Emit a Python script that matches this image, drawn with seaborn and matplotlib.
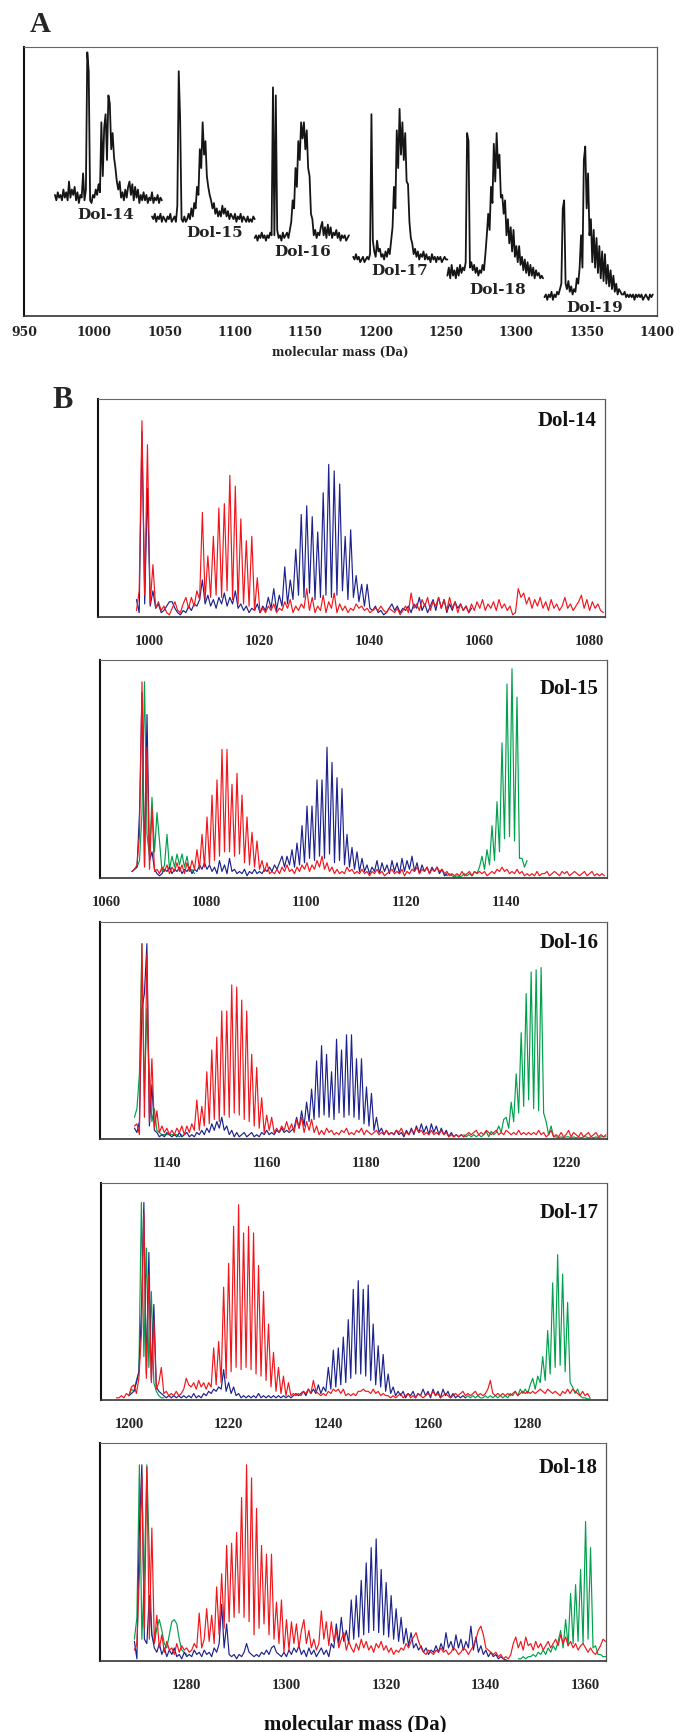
import numpy as np
import matplotlib
matplotlib.use("Agg")
import matplotlib.pyplot as plt
import seaborn as sns

# ---------------------------------------------------------------- data
# Panel A: overview spectra (1 Da sampling), start masses + intensities
a_names = ["Dol-14", "Dol-15", "Dol-16", "Dol-17", "Dol-18", "Dol-19"]
a_starts = [972, 1041, 1114, 1184, 1251, 1320]
a_dol14 = [45, 43, 46, 44, 45, 43, 47, 44, 46, 43, 50, 44, 47, 45, 48, 43, 46, 42, 45, 44,
           53, 43, 47, 98, 91, 43, 42, 45, 44, 47, 45, 49, 46, 72, 52, 70, 75, 58, 82, 79,
           62, 68, 59, 55, 50, 47, 50, 44, 46, 43, 47, 44, 48, 50, 45, 49, 43, 48, 44, 47,
           42, 45, 43, 46, 43, 45, 42, 44, 43, 46, 42, 44, 43, 45, 42, 44, 43]
a_dol15 = [37, 36, 38, 35, 37, 36, 38, 35, 37, 36, 35, 37, 36, 38, 35, 36, 37, 35, 41, 91,
           73, 36, 35, 37, 35, 36, 38, 36, 40, 37, 42, 40, 48, 45, 62, 55, 72, 60, 65, 52,
           48, 45, 43, 40, 42, 38, 40, 37, 39, 37, 41, 38, 40, 37, 39, 36, 38, 37, 36, 38,
           35, 37, 36, 38, 35, 37, 36, 35, 37, 35, 36, 35, 37, 36]
a_dol16 = [29, 30, 28, 30, 29, 31, 29, 30, 28, 30, 29, 31, 30, 85, 30, 82, 32, 29, 30, 28,
           31, 29, 30, 31, 29, 32, 35, 43, 40, 55, 48, 65, 58, 72, 66, 72, 62, 69, 55, 52,
           38, 36, 30, 32, 29, 31, 30, 33, 35, 30, 33, 29, 34, 30, 33, 29, 31, 30, 32, 29,
           31, 28, 30, 29, 30, 28, 29, 30]
a_dol17 = [22, 21, 23, 21, 22, 20, 21, 22, 20, 21, 22, 21, 23, 75, 28, 24, 22, 28, 24, 25,
           22, 23, 21, 24, 22, 25, 23, 28, 33, 48, 40, 69, 55, 77, 60, 72, 58, 68, 50, 49,
           35, 29, 27, 23, 25, 22, 24, 21, 23, 22, 24, 21, 23, 21, 22, 20, 23, 21, 22, 20,
           22, 21, 22, 20, 21, 22, 21, 21]
a_dol18 = [15, 18, 14, 19, 15, 17, 14, 18, 15, 19, 16, 18, 17, 20, 68, 65, 18, 20, 17, 19,
           16, 18, 15, 17, 16, 19, 17, 23, 30, 38, 32, 48, 42, 64, 50, 68, 55, 60, 44, 45,
           38, 43, 30, 36, 27, 33, 24, 32, 22, 26, 20, 26, 19, 22, 17, 21, 16, 20, 15, 19,
           15, 18, 14, 17, 15, 16, 14, 15, 14]
a_dol19 = [7, 8, 6, 8, 7, 9, 6, 8, 7, 9, 8, 10, 12, 40, 43, 12, 10, 13, 9, 11,
           8, 10, 9, 14, 12, 18, 30, 18, 58, 63, 40, 53, 30, 36, 20, 32, 18, 29, 16, 26,
           14, 24, 13, 23, 12, 19, 11, 17, 10, 15, 9, 12, 8, 10, 9, 8, 8, 9, 7, 8,
           7, 8, 7, 8, 6, 8, 7, 8, 7, 8, 6, 7, 8, 7, 6, 8, 7, 8]
a_ticks = [950, 1000, 1050, 1100, 1150, 1200, 1250, 1300, 1350, 1400]

# Panel B: zoomed spectra (0.5 Da sampling); red / blue / green traces
b_names = ["Dol-14", "Dol-15", "Dol-16", "Dol-17", "Dol-18"]
b_ticks = [[1000, 1020, 1040, 1060, 1080],
           [1060, 1080, 1100, 1120, 1140],
           [1140, 1160, 1180, 1200, 1220],
           [1200, 1220, 1240, 1260, 1280],
           [1280, 1300, 1320, 1340, 1360]]
b_ranges = [(990.6, 1082.9), (1058.8, 1160.2), (1126.6, 1228.2),
            (1194.4, 1295.9), (1262.6, 1364.1)]

dol14_red_start = 997.6
dol14_red = [3, 12, 90, 10, 79, 6, 24, 4, 7, 3, 5, 2, 1, 4, 7, 3, 2, 6, 9, 4,
             9, 5, 12, 8, 48, 8, 28, 9, 37, 10, 50, 9, 52, 12, 65, 8, 60, 6, 45, 6,
             35, 5, 37, 3, 18, 2, 4, 2, 5, 3, 6, 2, 4, 3, 7, 4, 8, 2, 5, 3,
             6, 4, 13, 3, 9, 2, 5, 3, 10, 2, 7, 4, 11, 2, 6, 3, 5, 2, 4, 3,
             6, 4, 5, 3, 4, 2, 3, 4, 3, 5, 3, 2, 4, 3, 2, 4, 1, 3, 5, 2,
             11, 4, 6, 3, 8, 5, 9, 3, 7, 5, 9, 4, 8, 3, 9, 4, 7, 2, 6, 3,
             5, 2, 6, 3, 7, 4, 8, 3, 6, 4, 7, 3, 8, 4, 6, 3, 5, 1, 2, 13,
             9, 11, 6, 9, 4, 8, 5, 9, 4, 7, 3, 8, 4, 6, 3, 5, 9, 4, 6, 3,
             5, 7, 10, 4, 8, 3, 7, 4, 6, 3, 2]
dol14_blue_start = 997.6
dol14_blue = [8, 2, 85, 6, 59, 5, 12, 4, 6, 2, 3, 5, 7, 7, 4, 2, 1, 3, 2, 5,
              3, 6, 5, 8, 17, 6, 10, 5, 8, 4, 9, 6, 11, 5, 9, 6, 12, 4, 6, 3,
              5, 2, 4, 3, 6, 2, 5, 3, 9, 4, 13, 3, 10, 5, 23, 6, 17, 8, 31, 10,
              47, 9, 51, 11, 46, 8, 39, 9, 57, 10, 70, 9, 67, 10, 61, 12, 37, 8, 40, 9,
              19, 7, 15, 5, 15, 4, 3, 5, 2, 3, 1, 2, 4, 6, 3, 5, 2, 4, 3, 5,
              2, 6, 4, 9, 3, 6, 2, 5, 8, 3, 9, 4, 8, 2, 6, 3, 7, 4, 6, 3,
              5, 2, 4]

dol15_red_start = 1065.2
dol15_red = [3, 4, 6, 20, 90, 5, 60, 4, 32, 3, 4, 2, 5, 3, 6, 2, 5, 3, 7, 3,
             6, 2, 7, 3, 8, 4, 13, 4, 20, 5, 28, 6, 38, 8, 45, 10, 59, 12, 59, 12,
             43, 10, 48, 11, 38, 7, 28, 6, 21, 5, 17, 4, 8, 3, 7, 2, 3, 2, 4, 2,
             5, 3, 6, 3, 4, 2, 5, 3, 6, 4, 7, 3, 6, 4, 8, 5, 10, 4, 7, 3,
             5, 2, 4, 2, 3, 2, 5, 3, 4, 2, 3, 2, 4, 2, 3, 1, 3, 2, 4, 2,
             3, 1, 2, 3, 4, 2, 3, 2, 4, 1, 3, 2, 4, 3, 5, 2, 4, 3, 5, 2,
             4, 3, 5, 3, 4, 2, 3, 1, 2, 1, 2, 1, 3, 1, 2, 3, 1, 3, 2, 3,
             2, 3, 1, 2, 3, 2, 4, 3, 5, 3, 4, 2, 3, 2, 4, 2, 3, 1, 2, 1,
             2, 1, 3, 1, 2, 2, 3, 1, 2, 3, 2, 1, 3, 2, 3, 1, 2, 3, 2, 1,
             2, 3, 1, 2, 3, 1, 2, 1, 2, 1]
dol15_blue_start = 1065.2
dol15_blue = [3, 4, 5, 30, 85, 6, 75, 8, 12, 4, 2, 1, 2, 4, 3, 5, 2, 4, 3, 5,
              2, 4, 3, 5, 2, 4, 3, 6, 4, 7, 4, 6, 3, 5, 2, 8, 3, 6, 2, 9,
              3, 4, 2, 3, 2, 4, 1, 3, 2, 4, 2, 3, 2, 4, 3, 5, 3, 6, 4, 7,
              10, 5, 10, 6, 13, 5, 16, 6, 24, 7, 33, 9, 33, 8, 45, 10, 45, 9, 60, 11,
              53, 7, 46, 8, 41, 6, 20, 5, 14, 4, 12, 3, 9, 3, 6, 2, 5, 3, 8, 2,
              7, 3, 6, 2, 8, 3, 7, 2, 9, 3, 8, 4, 10, 3, 7, 2, 6, 3, 5, 2,
              5, 3, 5, 2, 4, 1, 2]
dol15_green_a_start = 1065.2
dol15_green_a = [3, 4, 5, 8, 30, 90, 20, 10, 37, 12, 30, 17, 3, 6, 20, 4, 10, 5, 11, 6,
                 11, 5, 10, 3, 4, 2]
dol15_green_b_start = 1127.7
dol15_green_b = [2, 1, 2, 1, 0.5, 1, 0.5, 1, 2, 1, 2, 1, 3, 2, 5, 10, 4, 13, 6, 24,
                 8, 35, 12, 62, 18, 89, 19, 96, 17, 83, 9, 9, 5, 8]

dol16_red_start = 1133.5
dol16_red = [6, 7, 2, 90, 10, 85, 8, 37, 5, 13, 3, 6, 3, 5, 2, 4, 2, 5, 3, 6,
             2, 6, 3, 7, 4, 18, 4, 15, 6, 31, 7, 41, 9, 47, 8, 59, 11, 59, 10, 71,
             12, 70, 11, 64, 9, 59, 8, 39, 6, 33, 5, 19, 3, 11, 4, 10, 3, 5, 3, 6,
             4, 8, 4, 7, 3, 9, 5, 10, 3, 8, 4, 9, 3, 6, 2, 4, 2, 5, 3, 4,
             2, 3, 2, 4, 3, 5, 2, 3, 2, 4, 3, 5, 2, 4, 3, 2, 3, 4, 2, 3,
             2, 4, 2, 3, 2, 4, 3, 5, 2, 3, 2, 4, 3, 5, 3, 4, 2, 3, 2, 4,
             2, 3, 2, 4, 2, 3, 1, 2, 1, 2, 1, 2, 1, 2, 3, 2, 3, 4, 2, 3,
             2, 4, 3, 2, 3, 4, 2, 3, 2, 4, 3, 2, 3, 2, 4, 2, 3, 2, 3, 2,
             3, 2, 4, 2, 3, 1, 2, 4, 1, 2, 1, 3, 1, 2, 4, 1, 3, 2, 1, 3,
             1, 2, 3, 1, 2, 3, 1, 2, 1, 2]
dol16_blue_start = 1133.5
dol16_blue = [5, 3, 8, 60, 67, 90, 6, 25, 4, 3, 1, 2, 1, 3, 2, 1, 2, 1, 3, 1,
              2, 3, 1, 2, 1, 3, 2, 4, 2, 5, 3, 7, 4, 8, 5, 10, 4, 6, 2, 4,
              1, 3, 1, 2, 3, 1, 2, 3, 1, 2, 1, 3, 2, 4, 2, 3, 2, 4, 3, 5,
              3, 4, 3, 4, 5, 10, 5, 13, 6, 17, 8, 23, 9, 36, 10, 43, 11, 39, 10, 31,
              9, 46, 12, 41, 10, 48, 11, 48, 10, 37, 9, 37, 7, 24, 6, 21, 4, 10, 3, 5,
              2, 4, 2, 3, 2, 4, 2, 3, 1, 4, 2, 5, 2, 6, 3, 7, 3, 6, 2, 7,
              3, 6, 2, 5, 2, 4, 1, 3, 1, 2, 1, 2, 1]
dol16_green_a_start = 1133.5
dol16_green_a = [10, 14, 30, 90, 20, 60, 30, 8, 14, 4, 3, 2, 2, 2, 2, 2, 2, 2, 1, 2]
dol16_green_b_start = 1199.5
dol16_green_b = [2, 1, 2, 1, 2, 1, 2, 1, 2, 3.5, 1, 3.5, 2, 3, 6, 3, 9, 10, 5, 17,
                 8, 30, 12, 49, 15, 67, 18, 77, 14, 78, 13, 79, 12, 8, 2, 6, 1, 1, 0.5, 1,
                 0.5, 1, 1, 0.5, 1, 0.5, 1, 0.5, 1, 1, 0.5, 1, 0.5, 1, 0.5, 1, 1, 1]

dol17_red_start = 1197.5
dol17_red = [1, 1, 2, 1, 3, 2, 6, 7, 3, 10, 30, 86, 10, 58, 8, 37, 5, 8, 15, 3,
             4, 2, 3, 2, 4, 2, 3, 5, 10, 7, 6, 8, 5, 9, 6, 8, 5, 8, 6, 24,
             7, 27, 8, 52, 10, 63, 13, 80, 15, 90, 14, 77, 15, 80, 14, 77, 12, 62, 11, 50,
             9, 35, 6, 22, 4, 15, 3, 11, 2, 8, 2, 3, 2, 3, 2, 4, 3, 5, 3, 9,
             4, 3, 2, 3, 2, 4, 3, 5, 4, 5, 3, 5, 2, 3, 2, 3, 2, 4, 4, 5,
             4, 4, 3, 5, 3, 4, 2, 3, 2, 2, 1, 2, 1, 2, 3, 1, 2, 3, 1, 2,
             1, 3, 2, 1, 2, 3, 2, 4, 2, 3, 1, 2, 3, 2, 1, 2, 3, 2, 3, 4,
             2, 3, 2, 3, 4, 2, 3, 2, 3, 5, 9, 3, 2, 3, 2, 3, 2, 3, 2, 3,
             4, 2, 3, 4, 3, 4, 3, 4, 3, 4, 5, 4, 3, 5, 4, 3, 4, 3, 2, 4,
             3, 5, 3, 5, 4, 3, 2, 4, 2, 3, 1]
dol17_blue_start = 1200.0
dol17_blue = [2, 3, 4, 8, 13, 40, 91, 12, 68, 9, 44, 6, 4, 3, 2, 1, 2, 1, 2, 1,
              2, 1, 2, 1, 2, 1, 3, 1, 2, 1, 3, 2, 4, 3, 5, 4, 6, 5, 14, 4,
              8, 3, 6, 2, 3, 1, 2, 1, 2, 1, 2, 1, 3, 1, 2, 1, 2, 1, 2, 1,
              2, 1, 2, 1, 2, 1, 2, 3, 2, 3, 4, 2, 5, 3, 5, 3, 7, 3, 6, 4,
              15, 5, 23, 6, 24, 7, 29, 8, 37, 10, 51, 12, 55, 12, 51, 11, 53, 9, 35, 7,
              25, 6, 21, 4, 12, 3, 6, 2, 4, 2, 4, 1, 3, 2, 4, 1, 3, 2, 5, 2,
              4, 1, 5, 2, 4, 1, 5, 2, 4, 1, 3, 1, 2, 1, 2, 1]
dol17_green_a_start = 1200.0
dol17_green_a = [2, 5, 4, 9, 13, 91, 20, 70, 15, 50, 8, 4, 2, 1, 1]
dol17_green_b_start = 1267.5
dol17_green_b = [1, 2, 1, 2, 1, 2, 1, 1, 2, 1, 2, 1, 2, 1, 2, 1, 2, 1, 3, 2,
                 4, 2, 5, 3, 5, 3, 7, 10, 5, 11, 8, 20, 9, 32, 12, 54, 15, 67, 16, 58,
                 13, 45, 8, 6, 3, 5, 2, 1, 1, 0.5, 0.5]

dol18_red_start = 1269.5
dol18_red = [5, 8, 40, 85, 15, 89, 10, 61, 8, 21, 6, 12, 4, 9, 5, 6, 3, 8, 4, 7,
             5, 6, 4, 5, 8, 6, 22, 6, 10, 24, 9, 21, 8, 34, 12, 40, 15, 53, 18, 54,
             20, 59, 22, 75, 20, 90, 18, 84, 12, 70, 15, 53, 17, 49, 12, 49, 10, 27, 8, 28,
             4, 19, 5, 18, 8, 17, 6, 14, 19, 8, 14, 6, 10, 5, 8, 23, 10, 18, 7, 18,
             9, 14, 6, 10, 13, 5, 9, 6, 4, 8, 5, 10, 6, 9, 5, 7, 4, 8, 6, 9,
             5, 7, 4, 6, 3, 5, 4, 6, 5, 8, 6, 9, 11, 13, 9, 6, 4, 3, 5, 4,
             3, 5, 4, 6, 4, 5, 3, 4, 6, 5, 3, 4, 6, 5, 3, 5, 7, 10, 14, 16,
             12, 6, 5, 4, 3, 4, 2, 3, 1, 2, 1, 3, 8, 11, 6, 9, 5, 11, 7, 8,
             5, 9, 6, 8, 5, 7, 9, 6, 8, 10, 7, 12, 8, 11, 7, 9, 6, 8, 5, 7,
             8, 6, 4, 6, 4, 3, 5, 7, 10, 9]
dol18_blue_start = 1269.5
dol18_blue = [9, 1, 60, 90, 10, 8, 30, 12, 6, 4, 8, 3, 6, 2, 5, 3, 6, 2, 3, 1,
              4, 2, 3, 2, 5, 3, 4, 2, 5, 3, 4, 2, 6, 4, 8, 26, 6, 17, 3, 2,
              3, 1, 3, 2, 4, 8, 4, 3, 2, 3, 2, 4, 3, 5, 3, 6, 7, 4, 3, 2,
              4, 2, 5, 3, 6, 4, 7, 3, 5, 2, 6, 3, 5, 2, 4, 6, 3, 5, 2, 8,
              6, 17, 8, 20, 9, 14, 8, 28, 10, 30, 11, 37, 12, 45, 13, 52, 14, 56, 13, 42,
              12, 36, 11, 30, 10, 24, 9, 20, 8, 15, 7, 13, 6, 8, 5, 7, 4, 6, 3, 5,
              4, 7, 4, 8, 5, 13, 6, 9, 5, 12, 6, 10, 5, 9, 6, 16, 5, 11, 4, 7,
              3, 5, 2, 4, 2, 3, 1, 2, 1, 0.5, 0]
dol18_green_a_start = 1269.5
dol18_green_a = [10, 20, 90, 10, 40, 90, 48, 12, 8, 15, 19, 14, 8, 6, 12, 18, 19, 17, 10, 5,
                 4, 3]
dol18_green_b_start = 1346.5
dol18_green_b = [1, 1, 2, 1, 2, 2, 3, 2, 4, 3, 5, 3, 6, 4, 7, 5, 9, 14, 6, 19,
                 7, 31, 8, 35, 9, 42, 8, 64, 10, 52, 6, 7, 3, 3, 2, 2]

b_series = [
    [("blue", dol14_blue_start, dol14_blue), ("red", dol14_red_start, dol14_red)],
    [("green", dol15_green_a_start, dol15_green_a), ("green", dol15_green_b_start, dol15_green_b),
     ("blue", dol15_blue_start, dol15_blue), ("red", dol15_red_start, dol15_red)],
    [("green", dol16_green_a_start, dol16_green_a), ("green", dol16_green_b_start, dol16_green_b),
     ("blue", dol16_blue_start, dol16_blue), ("red", dol16_red_start, dol16_red)],
    [("green", dol17_green_a_start, dol17_green_a), ("green", dol17_green_b_start, dol17_green_b),
     ("blue", dol17_blue_start, dol17_blue), ("red", dol17_red_start, dol17_red)],
    [("green", dol18_green_a_start, dol18_green_a), ("green", dol18_green_b_start, dol18_green_b),
     ("blue", dol18_blue_start, dol18_blue), ("red", dol18_red_start, dol18_red)],
]

# ---------------------------------------------------------------- style
sns.set_style("white")
plt.rcParams["font.family"] = ["Liberation Serif", "DejaVu Serif"]
COLORS = {"red": "#f2161c", "blue": "#1d228c", "green": "#00a04c"}
W, H = 680, 1732
fig = plt.figure(figsize=(W / 100, H / 100), dpi=100)


def box(l, t, r, b):
    return [l / W, 1 - b / H, (r - l) / W, (b - t) / H]


def style_spines(ax):
    for side, (lw, col) in {"left": (1.5, "#111111"), "bottom": (1.2, "#333333"),
                            "top": (0.8, "#666666"), "right": (0.9, "#555555")}.items():
        ax.spines[side].set_visible(True)
        ax.spines[side].set_linewidth(lw)
        ax.spines[side].set_color(col)


# ---------------------------------------------------------------- panel A
axA = fig.add_axes(box(24, 47, 657, 316))
a_lists = [a_dol14, a_dol15, a_dol16, a_dol17, a_dol18, a_dol19]
for start, vals in zip(a_starts, a_lists):
    xs = start + np.arange(len(vals), dtype=float)
    sns.lineplot(x=xs, y=np.asarray(vals, dtype=float), ax=axA, color="#151515",
                 linewidth=1.3, estimator=None, sort=False, legend=False)
axA.set_xlim(950, 1400)
axA.set_ylim(0, 100)
axA.set_yticks([])
axA.set_xticks(a_ticks)
axA.set_xticklabels([str(t) for t in a_ticks], fontfamily="DejaVu Serif",
                    fontweight="bold", fontsize=9)
axA.tick_params(axis="x", direction="out", length=3, width=1, pad=4, colors="#222222")
axA.set_xlabel("")
axA.set_ylabel("")
style_spines(axA)
a_label_xy = [(1008, 37.5), (1085.5, 31), (1148, 23.7), (1217, 16.8), (1287, 9.8), (1356, 3.1)]
for name, (lx, ly) in zip(a_names, a_label_xy):
    axA.text(lx, ly, name, ha="center", va="center", fontfamily="DejaVu Serif",
             fontweight="bold", fontsize=11, color="#222222")

fig.text(30 / W, 1 - 25 / H, "A", fontsize=21, fontweight="bold", ha="left", va="center")
fig.text(340 / W, 1 - 352 / H, "molecular mass (Da)", fontfamily="DejaVu Serif",
         fontweight="bold", fontsize=8.5, ha="center", va="center", color="#222222")

# ---------------------------------------------------------------- panel B
b_boxes = [(98, 399, 605, 617), (100, 660, 607, 878), (100, 922, 607, 1139),
           (101, 1183, 607, 1400), (100, 1443, 606, 1661)]
b_label_y = [0.90, 0.865, 0.905, 0.86, 0.885]
for i, (bx, name) in enumerate(zip(b_boxes, b_names)):
    ax = fig.add_axes(box(*bx))
    for color, start, vals in b_series[i]:
        xs = start + 0.5 * np.arange(len(vals))
        sns.lineplot(x=xs, y=np.asarray(vals, dtype=float), ax=ax, color=COLORS[color],
                     linewidth=0.85, estimator=None, sort=False, legend=False)
    ax.set_xlim(*b_ranges[i])
    ax.set_ylim(0, 100)
    ax.set_yticks([])
    ax.set_xticks(b_ticks[i])
    ax.set_xticklabels([str(t) for t in b_ticks[i]], fontweight="bold", fontsize=10.5)
    ax.tick_params(axis="x", length=0, pad=13)
    ax.set_xlabel("")
    ax.set_ylabel("")
    style_spines(ax)
    ax.text(0.984, b_label_y[i], name, transform=ax.transAxes, ha="right", va="center",
            fontweight="bold", fontsize=15, color="#111111")

fig.text(52 / W, 1 - 401 / H, "B", fontsize=22, fontweight="bold", ha="left", va="center")
fig.text(355 / W, 1 - 1724 / H, "molecular mass (Da)", fontsize=15, fontweight="bold",
         ha="center", va="center", color="#111111")

fig.savefig("out.png", dpi=100)
